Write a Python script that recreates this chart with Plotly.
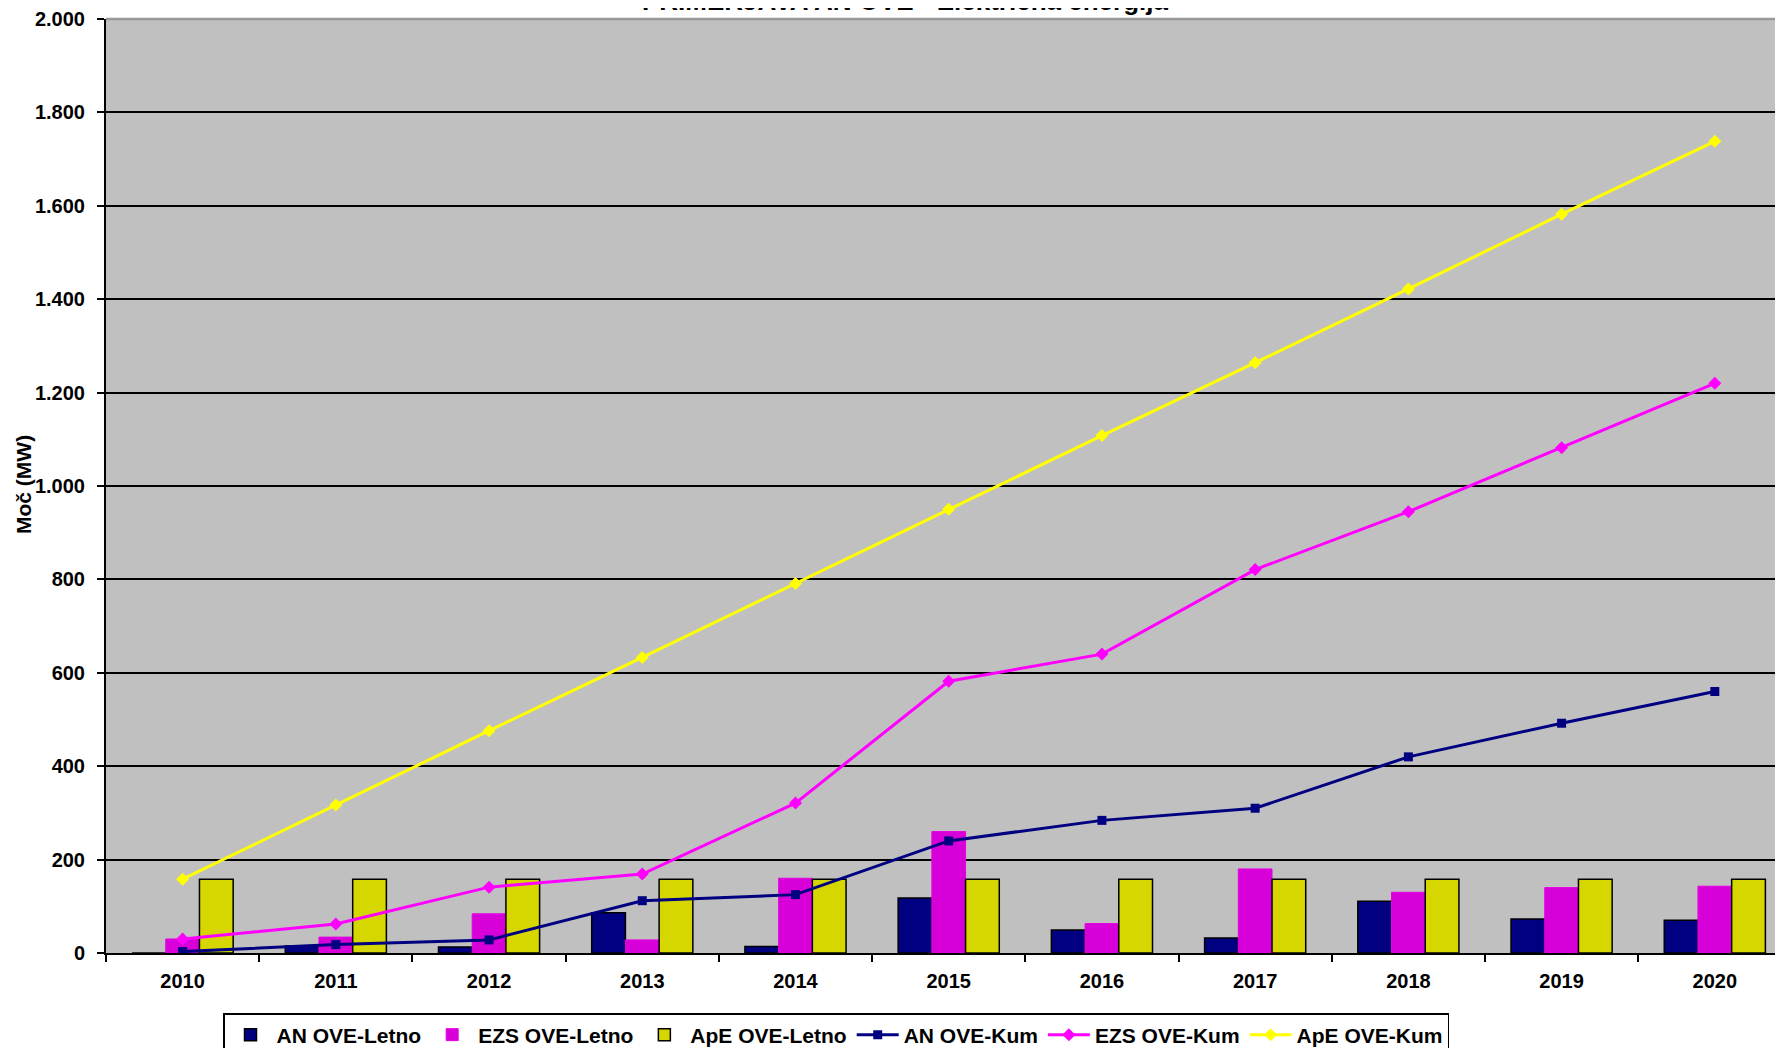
import plotly.graph_objects as go

# ---------------- data ----------------
years = ["2010", "2011", "2012", "2013", "2014", "2015", "2016", "2017", "2018", "2019", "2020"]

an_letno = [0, 15, 13, 86, 14, 118, 49, 32, 111, 73, 70]
ezs_letno = [30, 34, 84, 28, 160, 260, 63, 180, 130, 140, 143]
ape_letno = [158, 158, 158, 158, 158, 158, 158, 158, 158, 158, 158]

an_kum = [3, 18, 28, 112, 125, 240, 284, 310, 420, 492, 560]
ezs_kum = [30, 62, 141, 169, 321, 582, 640, 821, 945, 1082, 1220]
ape_kum = [158, 317, 476, 633, 791, 950, 1108, 1264, 1422, 1582, 1738]

y_tickvals = [0, 200, 400, 600, 800, 1000, 1200, 1400, 1600, 1800, 2000]
y_ticktext = ["0", "200", "400", "600", "800", "1.000", "1.200", "1.400", "1.600", "1.800", "2.000"]

title_text = "PRIMERJAVA AN OVE - Električna energija"
y_title = "Moč (MW)"

# ---------------- figure ----------------
W, H = 1783, 1048
OFF = 8  # page body margin
# plot area edges in page pixels
P_LEFT, P_TOP, P_BOTTOM, P_RIGHT = 106, 19, 953, 1783
ML = P_LEFT - OFF
MT = P_TOP - OFF
MB = H - (P_BOTTOM - OFF)
MR = W - (P_RIGHT - OFF)
plot_w = W - ML - MR
plot_h = H - MT - MB

FONT = "Liberation Sans, Arial, sans-serif"

fig = go.Figure()

fig.add_trace(go.Bar(
    x=years, y=an_letno, name="AN OVE-Letno",
    marker=dict(color="#000080", line=dict(color="#000000", width=1.5)),
))
fig.add_trace(go.Bar(
    x=years, y=ezs_letno, name="EZS OVE-Letno",
    marker=dict(color="#D800D8", line=dict(color="#E600E6", width=1)),
))
fig.add_trace(go.Bar(
    x=years, y=ape_letno, name="ApE OVE-Letno",
    marker=dict(color="#D6D600", line=dict(color="#000000", width=1.5)),
))

fig.add_trace(go.Scatter(
    x=years, y=an_kum, name="AN OVE-Kum", mode="lines+markers",
    line=dict(color="#000080", width=3),
    marker=dict(symbol="square", size=9, color="#000080"),
))
fig.add_trace(go.Scatter(
    x=years, y=ezs_kum, name="EZS OVE-Kum", mode="lines+markers",
    line=dict(color="#FF00FF", width=3),
    marker=dict(symbol="diamond", size=10, color="#FF00FF"),
))
fig.add_trace(go.Scatter(
    x=years, y=ape_kum, name="ApE OVE-Kum", mode="lines+markers",
    line=dict(color="#FFFF00", width=3),
    marker=dict(symbol="diamond", size=10, color="#FFFF00"),
))

fig.update_layout(
    width=W, height=H,
    margin=dict(l=ML, r=MR, t=MT, b=MB, pad=0, autoexpand=False),
    paper_bgcolor="#FFFFFF",
    plot_bgcolor="#C0C0C0",
    barmode="group",
    bargap=0.34,
    bargroupgap=0,
    font=dict(family=FONT, color="#000000"),
    showlegend=True,
    legend=dict(
        orientation="h",
        xref="container", yref="container",
        x=(223 - OFF) / W, xanchor="left",
        y=1 - (1013 - OFF) / H, yanchor="top",
        bgcolor="#FFFFFF",
        bordercolor="#000000", borderwidth=1.5,
        font=dict(family=FONT, size=21, weight="bold"),
        traceorder="normal",
        itemwidth=42,
    ),
    xaxis=dict(
        type="category",
        range=[-0.5, 10.445],
        showgrid=False,
        showline=True, linecolor="#000000", linewidth=2,
        ticks="outside", ticklen=7, tickwidth=1.5, tickcolor="#000000",
        tickson="boundaries",
        tickfont=dict(family=FONT, size=20, weight="bold"),
        ticklabelstandoff=9,
        zeroline=False,
        automargin=False,
        fixedrange=True,
    ),
    yaxis=dict(
        range=[0, 2000],
        tickvals=y_tickvals, ticktext=y_ticktext,
        showgrid=True, gridcolor="#000000", gridwidth=1.5,
        showline=True, linecolor="#000000", linewidth=2,
        ticks="outside", ticklen=7, tickwidth=1.5, tickcolor="#000000",
        tickfont=dict(family=FONT, size=20, weight="bold"),
        ticklabelstandoff=8,
        zeroline=False,
        automargin=False,
        fixedrange=True,
    ),
    annotations=[
        dict(
            text=y_title, textangle=-90,
            xref="paper", yref="paper",
            x=(23 - P_LEFT) / plot_w, y=(P_BOTTOM - 485) / plot_h,
            xanchor="center", yanchor="middle",
            showarrow=False,
            font=dict(family=FONT, size=21, weight="bold", color="#000000"),
        ),
        dict(
            text=title_text,
            xref="paper", yref="paper",
            x=(905 - P_LEFT) / plot_w, xanchor="center",
            y=1 + (P_TOP - 18) / plot_h, yanchor="bottom",
            showarrow=False,
            font=dict(family=FONT, size=26, weight="bold", color="#000000"),
        ),
    ],
    shapes=[
        dict(type="line", xref="paper", yref="paper", x0=0, x1=1, y0=1, y1=1,
             line=dict(color="#999999", width=2.5), layer="above"),
    ],
)

fig.write_html("out.html")
